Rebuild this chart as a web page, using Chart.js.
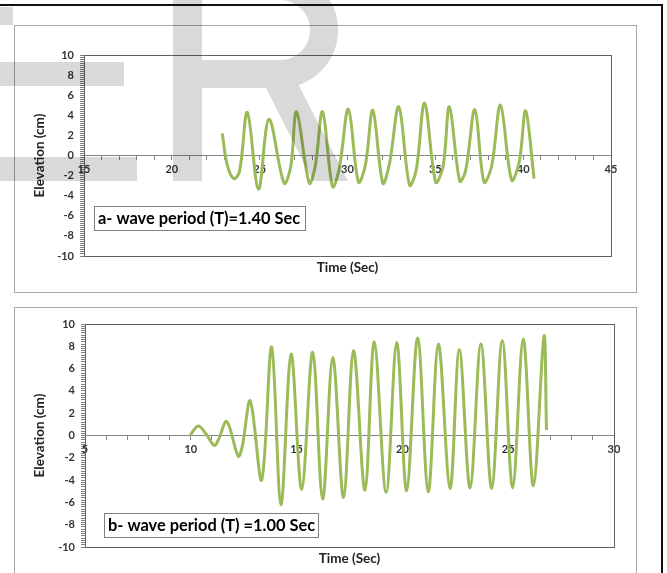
<!DOCTYPE html>
<html>
<head>
<meta charset="utf-8">
<script src="https://cdn.jsdelivr.net/npm/chart.js@4.4.0/dist/chart.umd.min.js"></script>
<style>
body { margin: 0; background: #fff; width: 667px; height: 573px; overflow: hidden; position: relative; }
.frame { position: absolute; left: 14px; width: 623px; border: 1px solid #a6a6a6; box-sizing: border-box; background: #fff; }
#f1 { top: 25px; height: 268px; }
#f2 { top: 307px; height: 272px; }
canvas.c { position: absolute; left: 14px; }
#c1 { top: 25px; }
#c2 { top: 307px; }
#topline { position: absolute; left: 0; top: 4px; width: 663px; height: 2px; background: #111; }
#rightline { position: absolute; left: 661px; top: 4px; width: 2px; height: 573px; background: #111; }
#wm { position: absolute; left: 0; top: 0; mix-blend-mode: multiply; pointer-events: none; }
</style>
</head>
<body>
<div id="topline"></div>
<div id="rightline"></div>
<div class="frame" id="f1"></div>
<div class="frame" id="f2"></div>
<canvas class="c" id="c1" width="623" height="268"></canvas>
<canvas class="c" id="c2" width="623" height="266"></canvas>
<canvas id="wm" width="667" height="573"></canvas>
<script>
// a- wave period 1.40 s (time in s, elevation in cm)
var timeA = [22.87, 23.15, 23.53, 23.85, 24.30, 24.93, 25.53, 26.39, 26.77, 27.10,
	27.82, 28.16, 28.58, 29.15, 29.53, 30.05, 30.62, 31.02, 31.44, 32.01,
	32.39, 32.92, 33.53, 33.91, 34.39, 35.02, 35.44, 35.80, 36.39, 36.73,
	37.25, 37.77, 38.20, 38.71, 39.34, 39.78, 40.14, 40.62];
var elevA = [2.2, -0.9, -2.3, -1.6, 4.3, -3.35, 3.6, -2.75, -1.1, 4.35,
	-2.75, -1.1, 4.35, -3.1, -1.3, 4.6, -2.65, -0.95, 4.5, -2.75,
	-0.8, 4.85, -2.95, -1.45, 5.2, -2.65, -1.1, 4.85, -2.55, -1.45,
	4.55, -2.65, -1.1, 5.0, -2.45, -0.6, 4.45, -2.3];

// b- wave period 1.00 s
var timeB = [9.96, 10.35, 10.70, 11.11, 11.30, 11.70, 12.24, 12.43, 12.81, 13.35,
	13.82, 14.26, 14.74, 15.24, 15.76, 16.23, 16.71, 17.22, 17.69, 18.23,
	18.67, 19.23, 19.73, 20.20, 20.72, 21.22, 21.70, 22.25, 22.69, 23.20,
	23.71, 24.22, 24.72, 25.21, 25.71, 26.19, 26.69, 26.81];
var elevB = [0, 0.85, 0.2, -0.9, -0.4, 1.25, -1.85, -1.0, 3.1, -4.0,
	7.95, -6.2, 7.3, -4.85, 7.45, -5.7, 7.0, -5.55, 7.6, -4.9,
	8.4, -5.1, 8.35, -4.95, 8.75, -5.05, 8.2, -4.75, 7.7, -4.7,
	8.2, -4.75, 8.5, -4.7, 8.65, -4.5, 8.9, 0.5];

var xRangeA = [15, 45];
var xRangeB = [5, 30];
var yRange = [-10, 10];
var noteA = "a- wave period (T)=1.40 Sec";
var noteB = "b- wave period (T) =1.00 Sec";

var FONT = "Lato, 'Liberation Sans', sans-serif";
var LINE = "#9bbb59";

function pts(t, v) {
	var out = [];
	for (var i = 0; i < t.length; i++) out.push({ x: t[i], y: v[i] });
	return out;
}

var framePlugin = {
	id: "frameNote",
	beforeDatasetsDraw: function (chart) {
		var a = chart.chartArea, ctx = chart.ctx;
		ctx.save();
		ctx.strokeStyle = "#606060";
		ctx.lineWidth = 1;
		ctx.strokeRect(Math.round(a.left) + 0.5, Math.round(a.top) + 0.5, Math.round(a.right - a.left), Math.round(a.bottom - a.top));
		ctx.restore();
	},
	afterDraw: function (chart, args, o) {
		var a = chart.chartArea, ctx = chart.ctx;
		ctx.save();
		ctx.fillStyle = "#fff";
		ctx.fillRect(o.bx, o.by, o.bw, o.bh);
		ctx.strokeStyle = "#7f7f7f";
		ctx.lineWidth = 1;
		ctx.strokeRect(o.bx + 0.5, o.by + 0.5, o.bw, o.bh);
		// size the note so it fills the box like the original
		ctx.font = "bold 14px " + FONT;
		var size = 14 * o.tw / ctx.measureText(o.text).width;
		ctx.font = "bold " + size.toFixed(1) + "px " + FONT;
		ctx.fillStyle = "#000";
		ctx.textBaseline = "middle";
		ctx.textAlign = "left";
		ctx.fillText(o.text, o.bx + 4, o.by + o.bh / 2 + 1);
		ctx.font = "bold 13.5px " + FONT;
		ctx.fillStyle = "#222";
		ctx.textAlign = "center";
		ctx.fillText("Time (Sec)", (a.left + a.right) / 2, a.bottom + 12);
		ctx.restore();
	}
};

function makeChart(id, t, v, xr, pad, yw, note) {
	return new Chart(document.getElementById(id), {
		type: "line",
		data: {
			datasets: [{
				data: pts(t, v),
				borderColor: LINE,
				borderWidth: 3,
				pointRadius: 0,
				tension: 0.35,
				fill: false
			}]
		},
		options: {
			responsive: false,
			animation: false,
			layout: { padding: pad },
			plugins: {
				legend: { display: false },
				tooltip: { enabled: false },
				frameNote: note
			},
			scales: {
				x: {
					type: "linear",
					position: { y: 0 },
					min: xr[0],
					max: xr[1],
					border: { display: true, color: "#868686", width: 1 },
					grid: { drawOnChartArea: false, drawTicks: true, tickLength: 4, color: "#868686" },
					ticks: {
						stepSize: 1,
						autoSkip: false,
						maxRotation: 0,
						padding: 3,
						color: "#333",
						font: { family: FONT, size: 11, weight: "bold" },
						callback: function (val) { return val % 5 === 0 ? val : ""; }
					}
				},
				y: {
					min: yRange[0],
					max: yRange[1],
					afterFit: function (s) { s.width = yw; },
					border: { display: true, color: "#606060", width: 1 },
					grid: { drawOnChartArea: false, drawTicks: true, tickLength: 4, color: "#808080" },
					ticks: {
						stepSize: 0.2,
						autoSkip: false,
						padding: 6,
						color: "#333",
						font: { family: FONT, size: 11, weight: "bold" },
						callback: function (val) { return Math.abs(val % 2) < 1e-6 ? val : ""; }
					},
					title: {
						display: true,
						text: "Elevation (cm)",
						color: "#222",
						font: { family: FONT, size: 13.5, weight: "bold" },
						padding: { top: 18, bottom: 0 }
					}
				}
			}
		},
		plugins: [framePlugin]
	});
}

makeChart("c1", timeA, elevA, xRangeA, { top: 30, right: 26, bottom: 37, left: 0 }, 70,
	{ text: noteA, bx: 80, by: 181, bw: 211, bh: 24, tw: 202 });
makeChart("c2", timeB, elevB, xRangeB, { top: 17, right: 23, bottom: 26, left: 0 }, 71,
	{ text: noteB, bx: 90, by: 206, bw: 214, bh: 24, tw: 207 });

// faint "ER" watermark laid over the page
var wm = document.getElementById("wm").getContext("2d");
wm.fillStyle = "#d9d9d9";
wm.strokeStyle = "#d9d9d9";
wm.fillRect(0, 7, 13, 18);
wm.fillRect(0, 62, 124, 24);
wm.fillRect(0, 157, 137, 24);
wm.fillRect(173, -10, 29, 191);
wm.lineWidth = 28;
wm.beginPath();
wm.moveTo(190, -14);
wm.lineTo(280, -14);
wm.arc(280, 30, 44, -Math.PI / 2, Math.PI / 2);
wm.lineTo(190, 74);
wm.stroke();
wm.beginPath();
wm.moveTo(262, 80);
wm.lineTo(296, 80);
wm.lineTo(348, 181);
wm.lineTo(313, 181);
wm.closePath();
wm.fill();
</script>
</body>
</html>
